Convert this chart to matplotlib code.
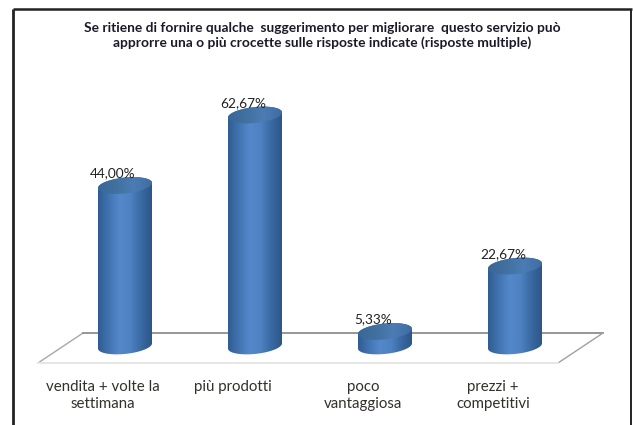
import numpy as np
import matplotlib
matplotlib.use("Agg")
import matplotlib.pyplot as plt
from matplotlib.colors import LinearSegmentedColormap
from matplotlib.patches import PathPatch
from matplotlib.path import Path

categories = ["vendita + volte la\nsettimana", "più prodotti", "poco\nvantaggiosa", "prezzi +\ncompetitivi"]
values = [44.00, 62.67, 5.33, 22.67]
labels = ["44,00%", "62,67%", "5,33%", "22,67%"]
title = ("Se ritiene di fornire qualche  suggerimento per migliorare  questo servizio può\n"
         "approrre una o più crocette sulle risposte indicate (risposte multiple)")

W, H = 633, 425
fig = plt.figure(figsize=(W / 100, H / 100), dpi=100, facecolor="white")
plt.rcParams["font.family"] = ["Lato", "DejaVu Sans"]

# background in pixel space
bg = fig.add_axes([0, 0, 1, 1])
bg.set_xlim(0, W); bg.set_ylim(H, 0); bg.axis("off")
bg.plot([12.5, 12.5], [9, H], color="#222222", lw=2.0, solid_capstyle="butt")
bg.plot([12.5, 632], [9, 9], color="#222222", lw=1.8, solid_capstyle="butt")
bg.plot([631.3, 631.3], [9, H], color="#222222", lw=1.4, solid_capstyle="butt")
bg.plot([38, 83], [363, 333], color="#a8a8a8", lw=1.0)
bg.plot([83, 603], [333, 333], color="#858585", lw=1.2)
bg.plot([603, 558], [333, 363], color="#a0a0a0", lw=1.0)
bg.plot([38, 558], [363, 363], color="#e6e6e6", lw=1.4)
bg.text(322, 35.5, title, ha="center", va="center", fontsize=9.9, fontweight="bold",
        color="#1a1a2a", linespacing=1.26)

# data axes: category 0 at x=125 px, spacing 130 px; 0% at y=351.6 px, 3.775 px per %
ax = fig.add_axes([0, 0, 1, 1], facecolor="none")
x_per = 130.0
xlim = ((0 - 125) / x_per, (W - 125) / x_per)
y_per = 3.775
ylim = ((351.6 - H) / y_per, 351.6 / y_per)
ax.set_xlim(xlim); ax.set_ylim(ylim); ax.axis("off")

side = LinearSegmentedColormap.from_list("side", ["#2f5c92", "#4274b2", "#5488cb", "#4f82c2", "#3a6aa3", "#2c5686"])
capc = LinearSegmentedColormap.from_list("cap", ["#3a6798", "#41719f", "#4c7cb4", "#3e6da3"])
grad = np.linspace(0, 1, 128).reshape(1, -1)

hw, hh, tilt = 27 / x_per, 8 / y_per, 2.6 / y_per
base = 1.5
label_dx, label_dy = -12 / x_per, 12 / y_per
t = np.linspace(0, 2 * np.pi, 120)

for i, v in enumerate(values):
    ex = hw * np.cos(t); ey = hh * np.sin(t) + tilt * np.cos(t)
    lo = np.linspace(np.pi, 2 * np.pi, 60)
    bx = i + hw * np.cos(lo); by = base + hh * np.sin(lo) + tilt * np.cos(lo)
    up = np.linspace(0, np.pi, 60)
    tx = i + hw * np.cos(up); ty = v + hh * np.sin(up) + tilt * np.cos(up)
    pts = np.column_stack([np.r_[bx, tx], np.r_[by, ty]])
    clip = PathPatch(Path(np.vstack([pts, pts[0]]), closed=True), transform=ax.transData, fc="none", ec="none")
    ax.add_patch(clip)
    im = ax.imshow(grad, extent=[i - hw, i + hw, base - hh - tilt, v + hh + tilt], cmap=side, aspect="auto", zorder=2)
    im.set_clip_path(clip)
    cap_pts = np.column_stack([i + ex, v + ey])
    cap = PathPatch(Path(cap_pts, closed=True), transform=ax.transData, fc="none", ec="none")
    ax.add_patch(cap)
    im2 = ax.imshow(grad, extent=[i - hw, i + hw, v - hh - tilt, v + hh + tilt], cmap=capc, aspect="auto", zorder=3)
    im2.set_clip_path(cap)
    ax.text(i + label_dx, v + label_dy, labels[i], ha="center", va="center", fontsize=9.8,
            color="#222222", zorder=4)

ax.set_xlim(xlim); ax.set_ylim(ylim)
cat_dx = -22 / x_per
cat_y = (351.6 - 380) / y_per
for i, c in enumerate(categories):
    ax.text(i + cat_dx, cat_y, c, ha="center", va="top", fontsize=10.8, color="#33312c", linespacing=1.28)

fig.savefig("out.png", dpi=100)
